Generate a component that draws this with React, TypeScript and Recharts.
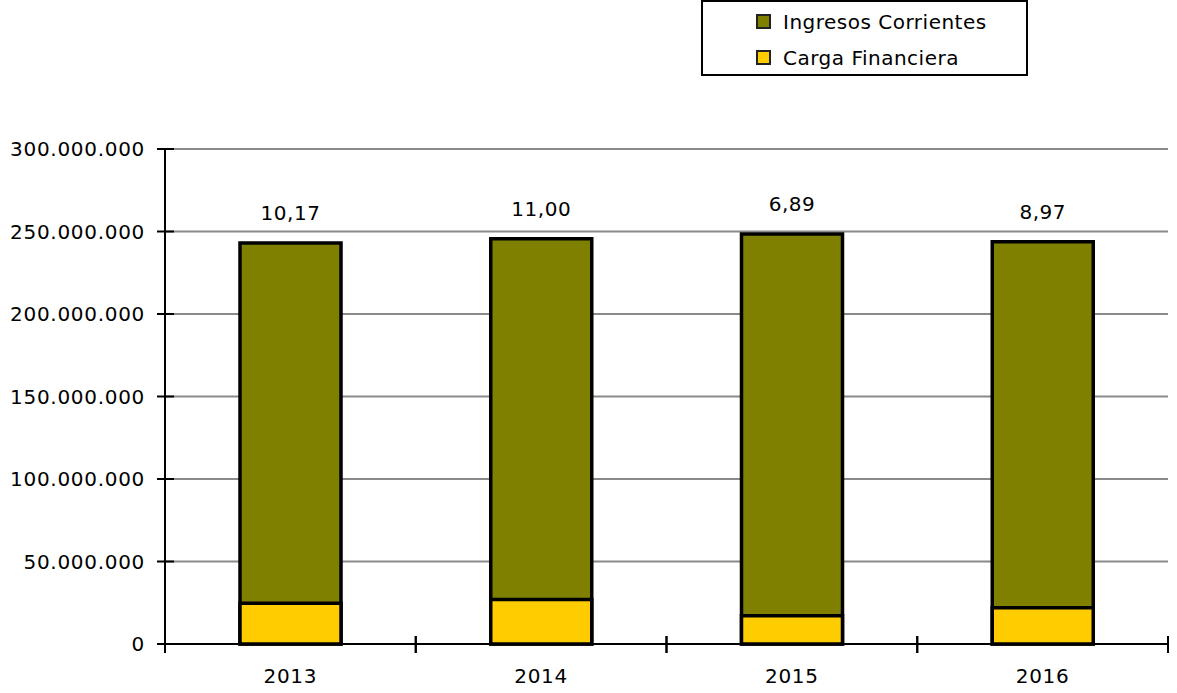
import React from 'react';
import { BarChart, Bar, XAxis, YAxis, CartesianGrid, Legend, LabelList } from 'recharts';

const years = ['2013', '2014', '2015', '2016'];
const ingresosCorrientes = [243.0e6, 245.6e6, 248.5e6, 243.8e6];
const cargaFinanciera = [24.7e6, 27.0e6, 17.1e6, 21.9e6];
const ratioLabels = ['10,17', '11,00', '6,89', '8,97'];
const yTicks = [0, 50e6, 100e6, 150e6, 200e6, 250e6, 300e6];
const legendOrder = ['Ingresos Corrientes', 'Carga Financiera'];

const data = years.map((y, i) => ({
  year: y,
  ingresos: ingresosCorrientes[i],
  carga: cargaFinanciera[i],
  ratio: ratioLabels[i],
}));

const FONT = '"DejaVu Sans", sans-serif';
const W = 1177;
const H = 693;
const M = { top: 149, right: 9, bottom: 9, left: 0 };
const Y_W = 165;
const BAND = (W - M.right - Y_W) / years.length;

const fmt = (v: number) => v.toLocaleString('de-DE');

const YTick = (props: any) => {
  const { x, y, payload } = props;
  return (
    <g>
      <line x1={x - 8} x2={x + 9} y1={y} y2={y} stroke="#000" strokeWidth={2} />
      <text x={x - 20} y={y} textAnchor="end" dominantBaseline="central" fontFamily={FONT} fontSize={20} letterSpacing={0.7} fill="#000">
        {fmt(payload.value)}
      </text>
    </g>
  );
};

const XTick = (props: any) => {
  const { x, y, payload } = props;
  return (
    <g>
      <line x1={x - BAND / 2} x2={x - BAND / 2} y1={y - 8} y2={y + 9} stroke="#000" strokeWidth={2} />
      <line x1={x + BAND / 2} x2={x + BAND / 2} y1={y - 8} y2={y + 9} stroke="#000" strokeWidth={2} />
      <text x={x} y={y + 32} textAnchor="middle" dominantBaseline="central" fontFamily={FONT} fontSize={20} letterSpacing={0.7} fill="#000">
        {payload.value}
      </text>
    </g>
  );
};

const LegendBox = (props: any) => {
  const items = [...(props.payload || [])].sort(
    (a: any, b: any) => legendOrder.indexOf(a.value) - legendOrder.indexOf(b.value)
  );
  return (
    <div style={{ width: 323, height: 72, border: '2px solid #000', background: '#fff', boxSizing: 'content-box' }}>
      {items.map((p: any, i: number) => (
        <div key={i} style={{ display: 'flex', alignItems: 'center', height: 37, paddingLeft: 53, marginTop: i === 0 ? 1 : -1 }}>
          <div style={{ width: 11, height: 11, background: p.color, border: '2px solid #222', marginRight: 12 }} />
          <span style={{ fontFamily: FONT, fontSize: 20, letterSpacing: 0.5, color: '#000' }}>{p.value}</span>
        </div>
      ))}
    </div>
  );
};

export default function App() {
  return (
    <div style={{ position: 'absolute', left: 0, top: 0, width: W, height: H, background: '#fff' }}>
      <BarChart width={W} height={H} data={data} margin={M}>
        <CartesianGrid horizontal vertical={false} stroke="#8a8a8a" strokeWidth={2} />
        <XAxis xAxisId="a" dataKey="year" height={40} axisLine={{ stroke: '#000', strokeWidth: 2 }} tickLine={false} tickSize={0} tickMargin={0} tick={<XTick />} interval={0} />
        <XAxis xAxisId="b" dataKey="year" hide />
        <YAxis
          width={Y_W}
          domain={[0, 300e6]}
          ticks={yTicks}
          interval={0}
          axisLine={{ stroke: '#000', strokeWidth: 2 }}
          tickLine={false}
          tickSize={0}
          tickMargin={0}
          tick={<YTick />}
        />
        <Legend
          layout="horizontal"
          verticalAlign="middle"
          align="center"
          content={<LegendBox />}
          wrapperStyle={{ position: 'absolute', left: 701, top: 0, width: 327 }}
        />
        <Bar xAxisId="a" dataKey="ingresos" name="Ingresos Corrientes" fill="#808000" stroke="#000" strokeWidth={3.5} barSize={101} isAnimationActive={false}>
          <LabelList dataKey="ratio" position="top" offset={23} fontFamily={FONT} fontSize={20} letterSpacing={0.5} fill="#000" />
        </Bar>
        <Bar xAxisId="b" dataKey="carga" name="Carga Financiera" fill="#FFCC00" stroke="#000" strokeWidth={3.5} barSize={101} isAnimationActive={false} />
      </BarChart>
    </div>
  );
}
